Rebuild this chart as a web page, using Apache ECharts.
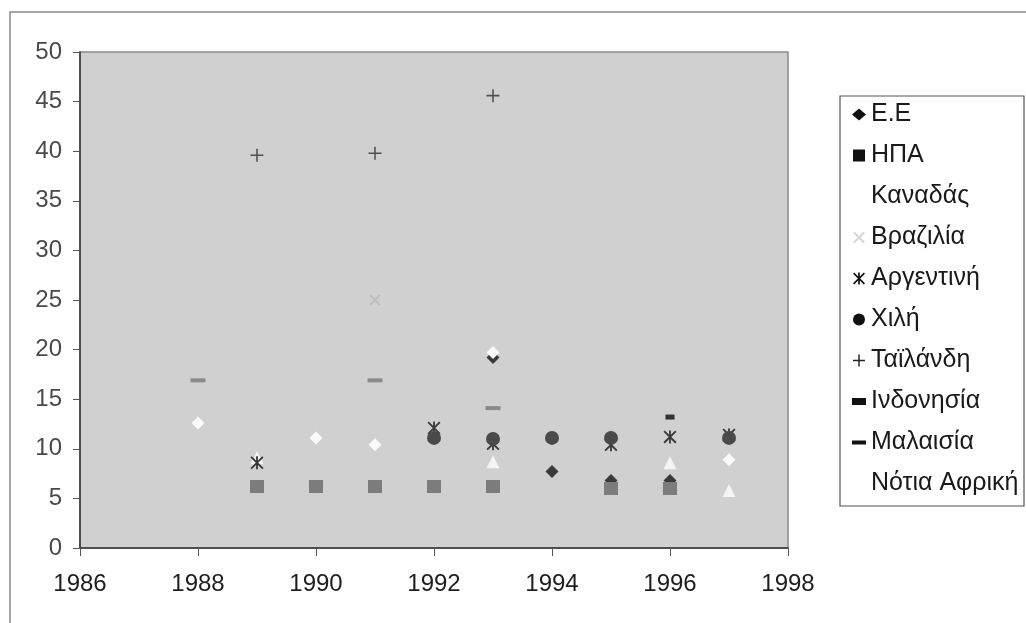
<!DOCTYPE html>
<html><head><meta charset="utf-8">
<script src="https://cdn.jsdelivr.net/npm/echarts@6/dist/echarts.min.js"></script>
<style>html,body{margin:0;padding:0;background:#fff}#c{width:1026px;height:623px}</style>
</head><body><div id="c"></div>
<script>
// Data (year, value)
const seriesNames = ['Ε.Ε','ΗΠΑ','Καναδάς','Βραζιλία','Αργεντινή','Χιλή','Ταϊλάνδη','Ινδονησία','Μαλαισία','Νότια Αφρική'];
const ee = [[1993,19.2],[1994,7.7],[1995,6.8],[1996,6.8]];
const usa = [[1989,6.2],[1990,6.2],[1991,6.2],[1992,6.2],[1993,6.2],[1995,6.0],[1996,6.0]];
const canada = [[1989,9.1],[1993,8.7],[1996,8.6],[1997,5.8]];
const brazil = [[1991,25.0]];
const argentina = [[1989,8.6],[1992,12.1],[1993,10.5],[1995,10.4],[1996,11.2],[1997,11.4]];
const chile = [[1992,11.1],[1993,11.0],[1994,11.1],[1995,11.1],[1997,11.1]];
const thailand = [[1989,39.6],[1991,39.8],[1993,45.6]];
const indonesia = [[1996,13.2]];
const malaysia = [[1988,16.9],[1991,16.9],[1993,14.1]];
const southAfrica = [[1988,12.6],[1990,11.1],[1991,10.4],[1993,19.7],[1997,8.9]];
const xTicks = {min:1986, max:1998, interval:2};
const yTicks = {min:0, max:50, interval:5};

const xPath = 'path://M0,1.2L1.2,0L10,8.8L8.8,10Z M8.8,0L10,1.2L1.2,10L0,8.8Z';
const starPath = 'path://M0,1L1,0L10,9L9,10Z M9,0L10,1L1,10L0,9Z M4.3,0L5.7,0L5.7,10L4.3,10Z';
const plusPath = 'path://M4.4,0h1.2v4.4h4.4v1.2h-4.4v4.4h-1.2v-4.4h-4.4v-1.2h4.4z';
const shortDash = 'path://M0,0h8v4h-8z';
const longDash = 'path://M0,0h14v4h-14z';

const styles = [
  {data:ee, symbol:'diamond', size:[13,13], color:'#3a3a3a', legendIcon:'diamond', legendColor:'#111'},
  {data:usa, symbol:'rect', size:[14,13], color:'#7c7c7c', legendIcon:'path://M0,0h10v10h-10z', legendColor:'#111'},
  {data:canada, symbol:'triangle', size:[13,13], color:'#f4f4f4', legendIcon:'triangle', legendColor:'#ffffff'},
  {data:brazil, symbol:xPath, size:[11,11], color:'#bdbdbd', legendIcon:xPath, legendColor:'#d6d6d6'},
  {data:argentina, symbol:starPath, size:[13,13], color:'#3a3a3a', legendIcon:starPath, legendColor:'#111'},
  {data:chile, symbol:'circle', size:[14,14], color:'#4a4a4a', legendIcon:'circle', legendColor:'#111'},
  {data:thailand, symbol:plusPath, size:[13,13], color:'#505050', legendIcon:plusPath, legendColor:'#222'},
  {data:indonesia, symbol:'rect', size:[9,5], color:'#333333', legendIcon:shortDash, legendColor:'#111'},
  {data:malaysia, symbol:'rect', size:[15,4], color:'#8a8a8a', legendIcon:longDash, legendColor:'#111'},
  {data:southAfrica, symbol:'diamond', size:[13,13], color:'#fafafa', legendIcon:'diamond', legendColor:'#ffffff'}
];

const chart = echarts.init(document.getElementById('c'));
const font = 'Liberation Sans, Arial, sans-serif';
chart.setOption({
  animation:false,
  backgroundColor:'#ffffff',
  textStyle:{fontFamily:font},
  graphic:[
    {type:'rect', z:-10, shape:{x:10,y:12,width:1040,height:640}, style:{fill:'none', stroke:'#8a8a8a', lineWidth:1.5}},
    {type:'rect', z:-10, shape:{x:840,y:96,width:184,height:410}, style:{fill:'#ffffff', stroke:'#555', lineWidth:1.2}}
  ],
  grid:{left:80, top:52, right:238, bottom:75, show:true, backgroundColor:'#d0d0d0', borderColor:'#8c8c8c', borderWidth:1.5},
  xAxis:{type:'value', min:xTicks.min, max:xTicks.max, interval:xTicks.interval,
    axisLine:{show:true, onZero:false, lineStyle:{color:'#333', width:1.5}},
    axisTick:{show:true, length:8, lineStyle:{color:'#555'}},
    splitLine:{show:false},
    axisLabel:{margin:24, fontSize:24, color:'#1e1e1e', fontFamily:font, formatter:v=>String(v)}},
  yAxis:{type:'value', min:yTicks.min, max:yTicks.max, interval:yTicks.interval,
    axisLine:{show:true, onZero:false, lineStyle:{color:'#333', width:1.5}},
    axisTick:{show:true, length:7, lineStyle:{color:'#555'}},
    splitLine:{show:false},
    axisLabel:{margin:18, fontSize:24, color:'#4a4a4a', fontFamily:font}},
  legend:{orient:'vertical', left:852, top:102, padding:0, itemGap:16, itemWidth:14, itemHeight:12,
    symbolKeepAspect:true,
    textStyle:{fontSize:25, lineHeight:25, color:'#1a1a1a', fontFamily:font},
    data:seriesNames.map((n,i)=>({name:n, icon:styles[i].legendIcon, itemStyle:{color:styles[i].legendColor}}))},
  series: styles.map((s,i)=>({
    type:'scatter', name:seriesNames[i], data:s.data, symbol:s.symbol, symbolSize:s.size,
    symbolKeepAspect:true, itemStyle:{color:s.color, opacity:1}, z:2+i
  }))
});
</script></body></html>
